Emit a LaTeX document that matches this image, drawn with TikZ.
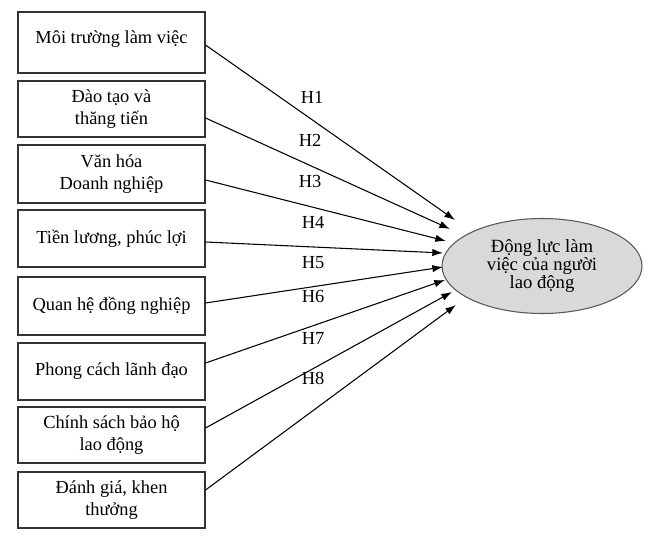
\documentclass[tikz,border=0pt]{standalone}
\usepackage{fontspec}
\setmainfont{Liberation Serif}
\usetikzlibrary{arrows.meta,shapes.geometric}
\begin{document}
\begin{tikzpicture}[x=0.75pt,y=-0.75pt,
  factor/.style={draw=black!80,line width=0.8pt,minimum width=187*0.75pt,align=center,inner sep=0pt,font=\fontsize{13.8pt}{16pt}\selectfont},
  outcome/.style={ellipse,draw=black!65,line width=0.8pt,fill=black!15,minimum width=200*0.75pt,minimum height=95*0.75pt,align=center,inner sep=0pt,font=\fontsize{14pt}{13.2pt}\selectfont},
  link/.style={line width=0.8pt,-{Latex[length=8pt,width=5.5pt]}},
  hlabel/.style={font=\fontsize{13.8pt}{15pt}\selectfont,inner sep=0pt}]
\useasboundingbox (0,0) rectangle (651,538);
% boxes
\node[factor,minimum height=61*0.75pt] (b1) at (111.5,42.5) {};
\node[hlabel] (l1) at (111.5,39) {Môi trường làm việc};
\node[factor,minimum height=56*0.75pt] (b2) at (111.5,109) {Đào tạo và\\thăng tiến};
\node[factor,minimum height=58*0.75pt] (b3) at (111.5,174) {Văn hóa\\Doanh nghiệp};
\node[factor,minimum height=57*0.75pt] (b4) at (111.5,238.5) {Tiền lương, phúc lợi};
\node[factor,minimum height=58*0.75pt] (b5) at (111.5,306) {Quan hệ đồng nghiệp};
\node[factor,minimum height=57*0.75pt] (b6) at (111.5,371.5) {Phong cách lãnh đạo};
\node[factor,minimum height=56*0.75pt] (b7) at (111.5,435) {Chính sách bảo hộ\\lao động};
\node[factor,minimum height=56*0.75pt] (b8) at (111.5,500) {Đánh giá, khen\\thưởng};
% outcome
\node[outcome] (y) at (542,266) {Động lực làm\\việc của người\\lao động};
% arrow end points
\coordinate (t1) at (455,220);
\coordinate (t2) at (450,229);
\coordinate (t3) at (446,241);
\coordinate (t4) at (443,253);
\coordinate (t5) at (443,267);
\coordinate (t6) at (445,280);
\coordinate (t7) at (452,292);
\coordinate (t8) at (456,305);
% connectors
\draw[link] ([yshift=-2.5*0.75pt]b1.east) -- (t1);
\draw[link] ([yshift=-9*0.75pt]b2.east) -- (t2);
\draw[link] ([yshift=-6*0.75pt]b3.east) -- (t3);
\draw[link] ([yshift=-3.5*0.75pt]b4.east) -- (t4);
\draw[link] ([yshift=3*0.75pt]b5.east) -- (t5);
\draw[link] ([yshift=8.5*0.75pt]b6.east) -- (t6);
\draw[link] ([yshift=7*0.75pt]b7.east) -- (t7);
\draw[link] ([yshift=10*0.75pt]b8.east) -- (t8);
% labels
\node[hlabel] (h1) at (312,97) {H1};
\node[hlabel] (h2) at (310,140) {H2};
\node[hlabel] (h3) at (310,182) {H3};
\node[hlabel] (h4) at (313,222) {H4};
\node[hlabel] (h5) at (313,263) {H5};
\node[hlabel] (h6) at (313,297) {H6};
\node[hlabel] (h7) at (313,338) {H7};
\node[hlabel] (h8) at (313,378) {H8};
\end{tikzpicture}
\end{document}
